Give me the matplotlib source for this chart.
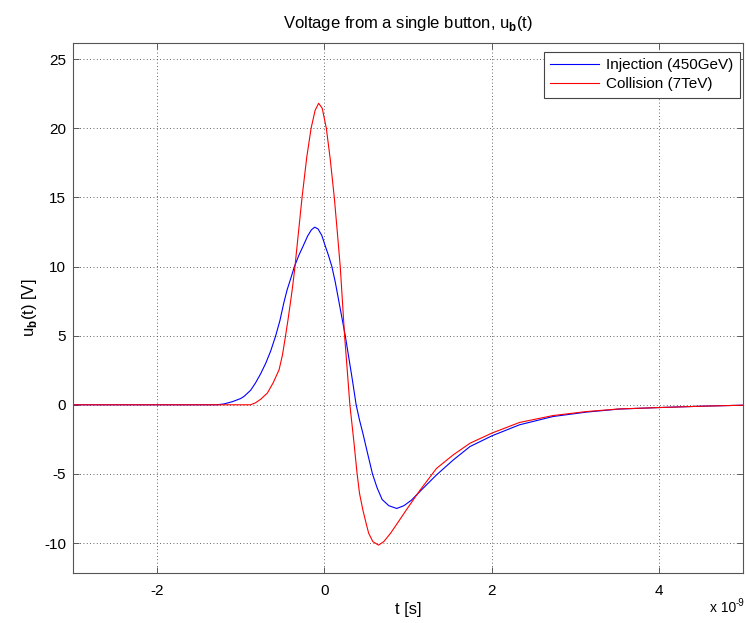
import numpy as np
import matplotlib
matplotlib.use("Agg")
import matplotlib.pyplot as plt
from matplotlib.ticker import FuncFormatter

plt.rcParams['font.family'] = ['Liberation Sans', 'DejaVu Sans']
plt.rcParams['mathtext.fontset'] = 'custom'
plt.rcParams['mathtext.rm'] = 'Liberation Sans'
plt.rcParams['mathtext.bf'] = 'Liberation Sans:bold'
plt.rcParams['axes.unicode_minus'] = False

# time in ns, voltage in V
t_inj = [-3.0, -1.28, -1.2, -1.1, -1.0, -0.96, -0.88, -0.82, -0.76, -0.70,
         -0.64, -0.583, -0.53, -0.484, -0.445, -0.405, -0.357, -0.305, -0.254,
         -0.20, -0.155, -0.115, -0.075, -0.03, 0.012, 0.05, 0.09, 0.13, 0.17,
         0.21, 0.25, 0.29, 0.335, 0.38, 0.42, 0.46, 0.516, 0.575, 0.63, 0.69,
         0.77, 0.865, 0.95, 1.04, 1.14, 1.34, 1.54, 1.74, 2.0, 2.33, 2.73,
         3.13, 3.52, 4.0, 4.52, 5.0]
u_inj = [0.0, 0.0, 0.06, 0.22, 0.45, 0.6, 1.05, 1.6, 2.25, 3.0,
         3.9, 4.95, 6.1, 7.37, 8.3, 9.06, 10.0, 10.8, 11.47,
         12.2, 12.65, 12.85, 12.72, 12.25, 11.47, 10.8, 10.0, 8.9, 7.6,
         6.3, 5.0, 3.5, 1.8, 0.0, -1.1, -2.05, -3.5, -5.0, -6.0, -6.85,
         -7.3, -7.5, -7.3, -6.9, -6.28, -5.07, -3.99, -3.02, -2.25, -1.45, -0.85,
         -0.53, -0.31, -0.2, -0.1, -0.03]

t_col = [-3.0, -0.88, -0.82, -0.76, -0.68, -0.61, -0.54, -0.50, -0.464,
         -0.435, -0.405, -0.38, -0.354, -0.31, -0.266, -0.21, -0.158, -0.11,
         -0.068, -0.025, 0.024, 0.07, 0.119, 0.155, 0.19, 0.215, 0.242, 0.275,
         0.305, 0.35, 0.39, 0.42, 0.46, 0.50, 0.53, 0.58, 0.647, 0.71, 0.79,
         0.88, 0.98, 1.06, 1.14, 1.34, 1.54, 1.74, 2.0, 2.33, 2.73, 3.13,
         3.52, 4.0, 4.52, 5.0]
u_col = [0.0, 0.0, 0.15, 0.4, 0.85, 1.6, 2.54, 3.6, 4.95,
         6.1, 7.37, 8.5, 9.8, 12.4, 15.0, 17.9, 20.0, 21.3,
         21.81, 21.45, 20.0, 17.8, 15.0, 12.5, 10.0, 7.6, 5.0, 2.4,
         0.0, -2.5, -4.9, -6.4, -7.6, -8.6, -9.3, -9.9, -10.15, -9.9, -9.3,
         -8.5, -7.6, -6.9, -6.2, -4.6, -3.62, -2.78, -2.05, -1.28, -0.78, -0.49,
         -0.3, -0.2, -0.1, -0.03]

labels = ['Injection (450GeV)', 'Collision (7TeV)']
x_ticks = [-2e-9, 0, 2e-9, 4e-9]
y_ticks = [-10, -5, 0, 5, 10, 15, 20, 25]


def main():
    fig = plt.figure(figsize=(7.46, 6.23), dpi=100)
    ax = fig.add_axes([0.098, 0.080, 0.898, 0.851])

    ax.plot(np.array(t_inj) * 1e-9, u_inj, color='#0000ff', lw=0.8,
            label=labels[0])
    ax.plot(np.array(t_col) * 1e-9, u_col, color='#ff0000', lw=0.8,
            label=labels[1])

    # matlab-like limits
    ymin = 1.2 * min(min(u_inj), min(u_col))
    ymax = 1.2 * max(max(u_inj), max(u_col))
    ax.set_xlim(-3e-9, 5e-9)
    ax.set_ylim(ymin, ymax)

    ax.set_xticks(x_ticks)
    ax.set_yticks(y_ticks)
    ax.xaxis.set_major_formatter(FuncFormatter(lambda v, p: f'{round(v * 1e9):d}'))
    ax.tick_params(direction='in', length=4, width=0.6, labelsize=11,
                   top=True, right=True, color='#444444')
    ax.tick_params(axis='x', pad=8)
    ax.tick_params(axis='y', pad=5)
    for s in ax.spines.values():
        s.set_color('#555555')
        s.set_linewidth(0.8)
    ax.grid(True, linestyle=(0, (1, 3)), color='#333333', linewidth=0.6)

    ax.set_title(r'Voltage from a single button, u$_\mathbf{b}$(t)',
                 fontsize=12, pad=11)
    ax.set_xlabel('t [s]', fontsize=12, labelpad=3)
    ax.set_ylabel(r'u$_\mathbf{b}$(t) [V]', fontsize=12, labelpad=4)
    # exponent like matlab: "x 10^-9" with a plain hyphen
    ax.text(0.9895, -0.052, 'x 10', transform=ax.transAxes,
            ha='right', va='top', fontsize=10)
    ax.text(0.9895, -0.047, '-9', transform=ax.transAxes,
            ha='left', va='top', fontsize=7)

    leg = ax.legend(loc='upper right', bbox_to_anchor=(0.995, 0.983),
                    borderaxespad=0, fontsize=11, fancybox=False,
                    framealpha=1, edgecolor='#444444', handlelength=3.2,
                    labelspacing=0.35, borderpad=0.4, handletextpad=0.5)
    leg.get_frame().set_linewidth(0.8)

    fig.savefig('out.png', dpi=100)


if __name__ == "__main__":
    main()
